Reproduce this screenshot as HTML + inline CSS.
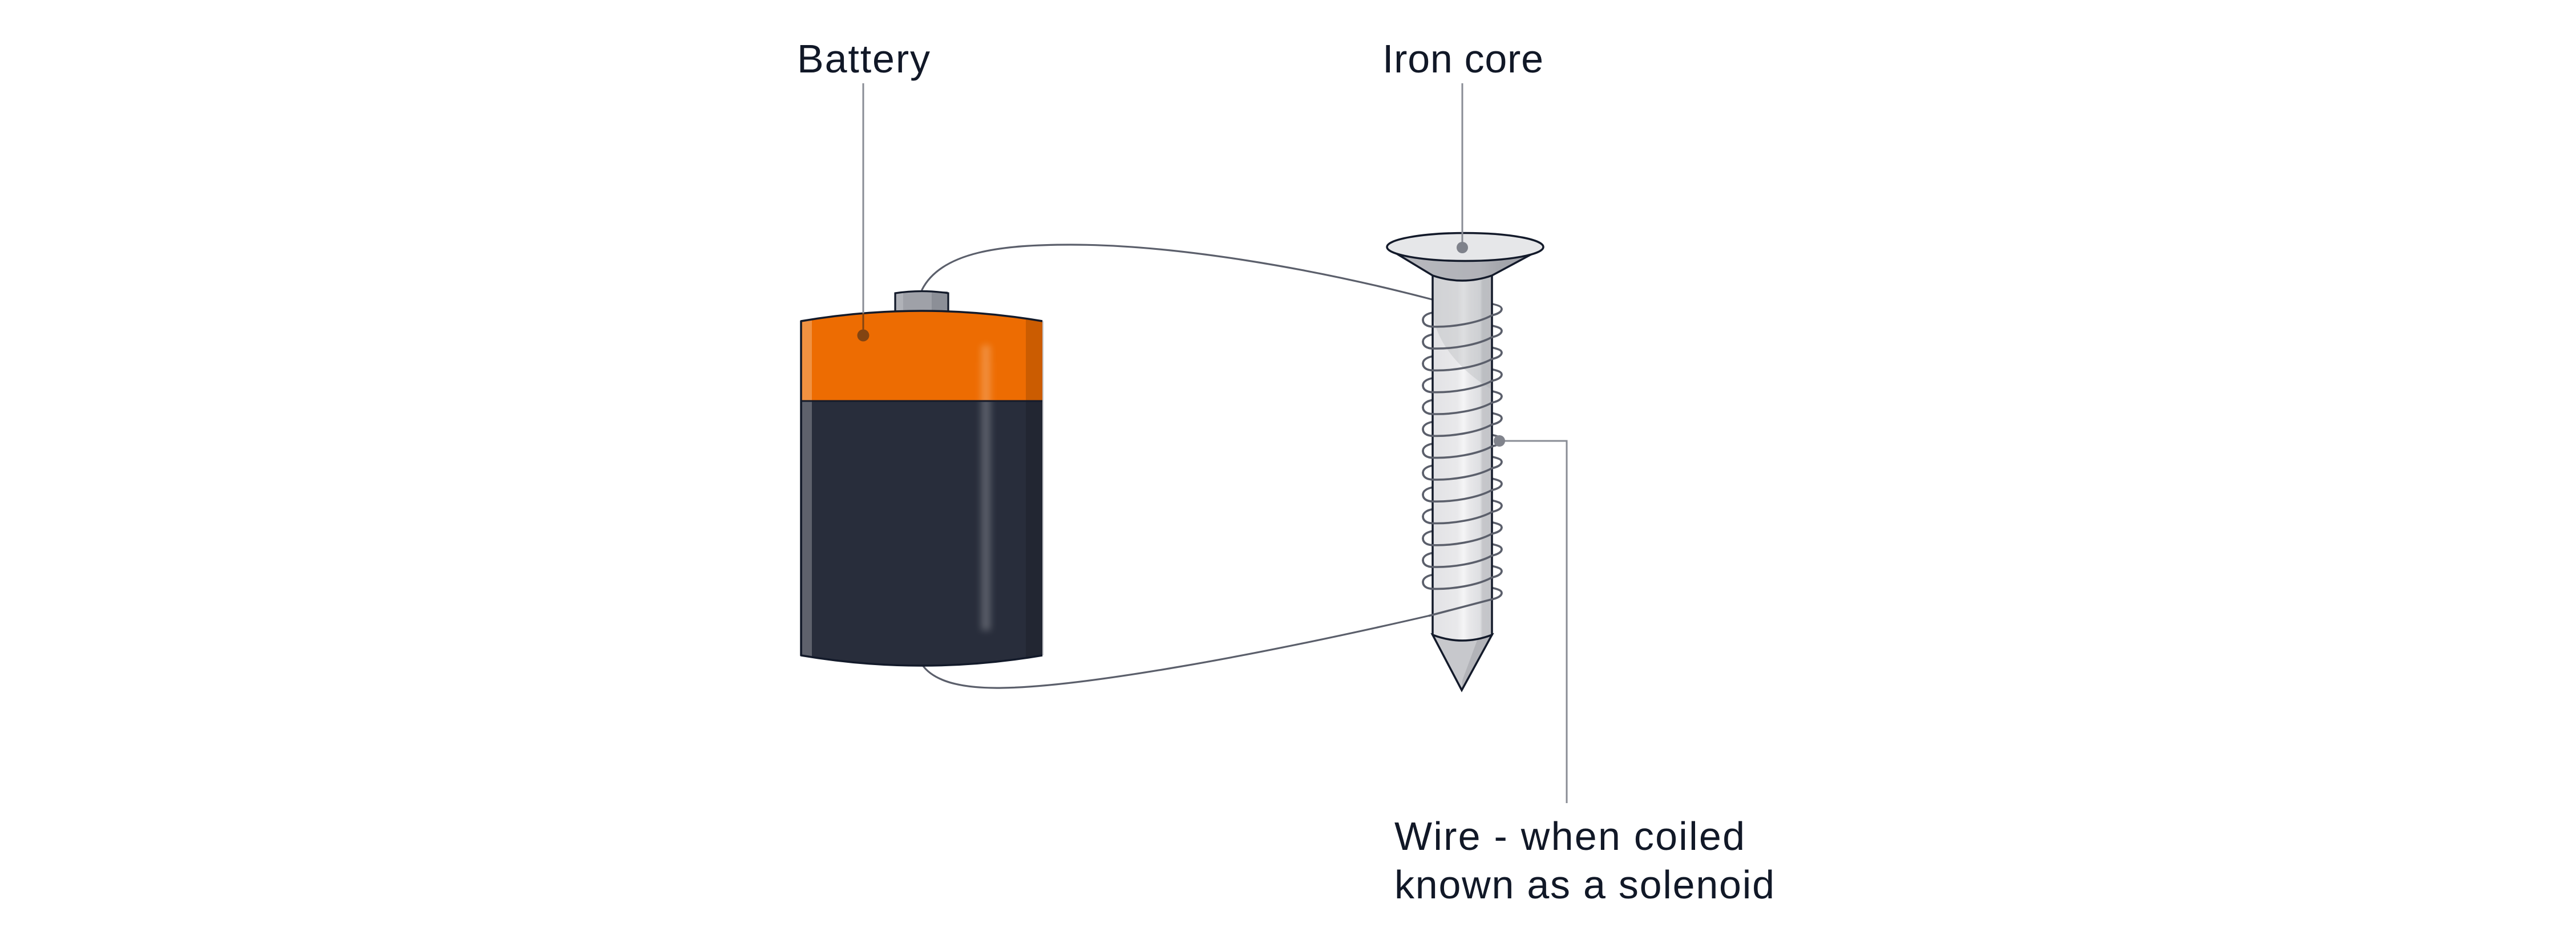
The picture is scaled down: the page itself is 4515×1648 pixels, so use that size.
<!DOCTYPE html>
<html>
<head>
<meta charset="utf-8">
<style>
  html,body{margin:0;padding:0;background:#ffffff;}
  body{width:4515px;height:1648px;overflow:hidden;}
  svg{display:block;}
  text{font-family:"Liberation Sans", Arial, sans-serif;font-size:70px;fill:#111827;}
</style>
</head>
<body>
<svg width="4515" height="1648" viewBox="0 0 4515 1648" xmlns="http://www.w3.org/2000/svg">
  <defs>
    <clipPath id="bat">
      <path d="M1404,563 Q1615,527 1827,563 L1827,1149 Q1615,1185 1404,1149 Z"/>
    </clipPath>
    <linearGradient id="shaft" x1="0" y1="0" x2="1" y2="0">
      <stop offset="0" stop-color="#e2e2e5"/>
      <stop offset="0.42" stop-color="#e9e9eb"/>
      <stop offset="0.52" stop-color="#f5f5f6"/>
      <stop offset="0.62" stop-color="#e8e8ea"/>
      <stop offset="0.80" stop-color="#dedfe2"/>
      <stop offset="0.84" stop-color="#c6c7cb"/>
      <stop offset="1" stop-color="#c3c4c8"/>
    </linearGradient>
    <linearGradient id="cone" x1="0" y1="0" x2="1" y2="0">
      <stop offset="0" stop-color="#b8b9be"/>
      <stop offset="0.6" stop-color="#b1b2b8"/>
      <stop offset="0.75" stop-color="#a4a6ac"/>
      <stop offset="1" stop-color="#9c9ea5"/>
    </linearGradient>
    <filter id="blur" x="-100%" y="-20%" width="300%" height="140%">
      <feGaussianBlur stdDeviation="6"/>
    </filter>
  </defs>

  <!-- Wire (full path incl. back arcs) -->
  <path fill="none" stroke="#5b5f6b" stroke-width="3.2" stroke-linecap="round" stroke-linejoin="round"
    d="M1616,508 C1650,440 1760,429 1877,429 C2060,429 2300,470 2510,525 L2615,532.7 c12,2.8 17,4.8 17,9"/>
  <path fill="none" stroke="#5b5f6b" stroke-width="3.6" stroke-linecap="round" stroke-linejoin="round"
    d="M2632,541.7
       c0,5 -7,9 -17,11 c-25,14 -70,21 -103,20 c-12,0 -18,-5 -18,-12 c0,-7 8,-11 17,-12.7 c34,-4.3 79,8.7 104,22.9 c12,2.8 17,4.8 17,9.1
       c0,5 -7,9 -17,11 c-25,14 -70,21 -103,20 c-12,0 -18,-5 -18,-12 c0,-7 8,-11 17,-12.7 c34,-4.3 79,8.7 104,22.9 c12,2.8 17,4.8 17,9.1
       c0,5 -7,9 -17,11 c-25,14 -70,21 -103,20 c-12,0 -18,-5 -18,-12 c0,-7 8,-11 17,-12.7 c34,-4.3 79,8.7 104,22.9 c12,2.8 17,4.8 17,9.1
       c0,5 -7,9 -17,11 c-25,14 -70,21 -103,20 c-12,0 -18,-5 -18,-12 c0,-7 8,-11 17,-12.7 c34,-4.3 79,8.7 104,22.9 c12,2.8 17,4.8 17,9.1
       c0,5 -7,9 -17,11 c-25,14 -70,21 -103,20 c-12,0 -18,-5 -18,-12 c0,-7 8,-11 17,-12.7 c34,-4.3 79,8.7 104,22.9 c12,2.8 17,4.8 17,9.1
       c0,5 -7,9 -17,11 c-25,14 -70,21 -103,20 c-12,0 -18,-5 -18,-12 c0,-7 8,-11 17,-12.7 c34,-4.3 79,8.7 104,22.9 c12,2.8 17,4.8 17,9.1
       c0,5 -7,9 -17,11 c-25,14 -70,21 -103,20 c-12,0 -18,-5 -18,-12 c0,-7 8,-11 17,-12.7 c34,-4.3 79,8.7 104,22.9 c12,2.8 17,4.8 17,9.1
       c0,5 -7,9 -17,11 c-25,14 -70,21 -103,20 c-12,0 -18,-5 -18,-12 c0,-7 8,-11 17,-12.7 c34,-4.3 79,8.7 104,22.9 c12,2.8 17,4.8 17,9.1
       c0,5 -7,9 -17,11 c-25,14 -70,21 -103,20 c-12,0 -18,-5 -18,-12 c0,-7 8,-11 17,-12.7 c34,-4.3 79,8.7 104,22.9 c12,2.8 17,4.8 17,9.1
       c0,5 -7,9 -17,11 c-25,14 -70,21 -103,20 c-12,0 -18,-5 -18,-12 c0,-7 8,-11 17,-12.7 c34,-4.3 79,8.7 104,22.9 c12,2.8 17,4.8 17,9.1
       c0,5 -7,9 -17,11 c-25,14 -70,21 -103,20 c-12,0 -18,-5 -18,-12 c0,-7 8,-11 17,-12.7 c34,-4.3 79,8.7 104,22.9 c12,2.8 17,4.8 17,9.1
       c0,5 -7,9 -17,11 c-25,14 -70,21 -103,20 c-12,0 -18,-5 -18,-12 c0,-7 8,-11 17,-12.7 c34,-4.3 79,8.7 104,22.9 c12,2.8 17,4.8 17,9.1
       c0,5 -7,9 -17,11 c-25,14 -70,21 -103,20 c-12,0 -18,-5 -18,-12 c0,-7 8,-11 17,-12.7 c34,-4.3 79,8.7 104,22.9 c12,2.8 17,4.8 17,9.1
       c0,5 -7,9 -17,11 L2511,1078"/>
  <path fill="none" stroke="#5b5f6b" stroke-width="3.2" stroke-linecap="round" stroke-linejoin="round"
    d="M2511,1078 C2200,1150 1900,1204 1757,1206 C1700,1207 1640,1200 1616,1165"/>

  <!-- Battery terminal -->
  <path d="M1569,552 L1569,514 Q1615,507 1662,514 L1662,552 Z" fill="#9fa1a8"/>
  <rect x="1571" y="512" width="12" height="40" fill="#b0b2b8"/>
  <rect x="1633" y="511" width="28" height="41" fill="#8c8f97"/>
  <path d="M1569,552 L1569,514 Q1615,507 1662,514 L1662,552" fill="none" stroke="#131a2a" stroke-width="3.2"/>

  <!-- Battery body -->
  <g clip-path="url(#bat)">
    <rect x="1400" y="520" width="432" height="183" fill="#ed6c02"/>
    <rect x="1400" y="703" width="432" height="490" fill="#282d3b"/>
    <rect x="1406" y="520" width="17" height="680" fill="#ffffff" opacity="0.25"/>
    <rect x="1798" y="520" width="32" height="680" fill="#000000" opacity="0.14"/>
    <rect x="1720" y="605" width="16" height="500" fill="#ffffff" opacity="0.24" filter="url(#blur)"/>
  </g>
  <line x1="1404" y1="703" x2="1827" y2="703" stroke="#141a2a" stroke-width="3"/>
  <path d="M1827,563 Q1615,527 1404,563 L1404,1149 Q1615,1185 1827,1149" fill="none" stroke="#131a2a" stroke-width="3.5" stroke-linejoin="round"/>
  <line x1="1828" y1="563" x2="1828" y2="1149" stroke="#c3c5ca" stroke-width="2"/>

  <!-- Screw shaft -->
  <path d="M2511,478 L2511,1113 Q2563,1133 2615,1113 L2615,478 Z" fill="url(#shaft)"/>
  <path d="M2511,483 L2615,483 L2615,683 C2575,660 2525,615 2513,560 Z" fill="#a9abb1" opacity="0.3"/>
  <line x1="2511" y1="478" x2="2511" y2="1114" stroke="#131a2a" stroke-width="3.5"/>
  <line x1="2615" y1="478" x2="2615" y2="1114" stroke="#131a2a" stroke-width="3.5"/>

  <!-- Screw point -->
  <path d="M2511,1113 Q2563,1133 2615,1113 L2562,1210 Z" fill="#c7c8cc"/>
  <path d="M2590,1120 L2615,1113 L2562,1210 L2563,1193 Z" fill="#b2b3b8"/>
  <path d="M2511,1113 Q2563,1133 2615,1113 L2562,1210 Z" fill="none" stroke="#131a2a" stroke-width="3.5" stroke-linejoin="miter"/>

  <!-- Screw head cone + top -->
  <path d="M2440,440 L2511,483 Q2563,501 2615,483 L2695,440 Z" fill="url(#cone)" stroke="#131a2a" stroke-width="3.5" stroke-linejoin="round"/>
  <ellipse cx="2568" cy="433" rx="137" ry="24.5" fill="#e6e7e9" stroke="#131a2a" stroke-width="3.5"/>

  <!-- Front coil arcs (over the shaft) -->
  <path fill="none" stroke="#5b5f6b" stroke-width="3.6" stroke-linecap="round" stroke-linejoin="round"
    d="M2632,541.7
       c0,5 -7,9 -17,11 c-25,14 -70,21 -103,20 c-12,0 -18,-5 -18,-12 m138,19.3
       c0,5 -7,9 -17,11 c-25,14 -70,21 -103,20 c-12,0 -18,-5 -18,-12 m138,19.3
       c0,5 -7,9 -17,11 c-25,14 -70,21 -103,20 c-12,0 -18,-5 -18,-12 m138,19.3
       c0,5 -7,9 -17,11 c-25,14 -70,21 -103,20 c-12,0 -18,-5 -18,-12 m138,19.3
       c0,5 -7,9 -17,11 c-25,14 -70,21 -103,20 c-12,0 -18,-5 -18,-12 m138,19.3
       c0,5 -7,9 -17,11 c-25,14 -70,21 -103,20 c-12,0 -18,-5 -18,-12 m138,19.3
       c0,5 -7,9 -17,11 c-25,14 -70,21 -103,20 c-12,0 -18,-5 -18,-12 m138,19.3
       c0,5 -7,9 -17,11 c-25,14 -70,21 -103,20 c-12,0 -18,-5 -18,-12 m138,19.3
       c0,5 -7,9 -17,11 c-25,14 -70,21 -103,20 c-12,0 -18,-5 -18,-12 m138,19.3
       c0,5 -7,9 -17,11 c-25,14 -70,21 -103,20 c-12,0 -18,-5 -18,-12 m138,19.3
       c0,5 -7,9 -17,11 c-25,14 -70,21 -103,20 c-12,0 -18,-5 -18,-12 m138,19.3
       c0,5 -7,9 -17,11 c-25,14 -70,21 -103,20 c-12,0 -18,-5 -18,-12 m138,19.3
       c0,5 -7,9 -17,11 c-25,14 -70,21 -103,20 c-12,0 -18,-5 -18,-12 m138,19.3
       c0,5 -7,9 -17,11 L2505,1079.5"/>

  <!-- Leader: Battery -->
  <line x1="1513" y1="146" x2="1513" y2="549" stroke="#898c95" stroke-width="3"/>
  <line x1="1513" y1="549" x2="1513" y2="588" stroke="#824412" stroke-width="3"/>
  <circle cx="1513" cy="588" r="10.5" fill="#824412"/>

  <!-- Leader: Iron core -->
  <line x1="2563" y1="146" x2="2563" y2="434" stroke="#898c95" stroke-width="3"/>
  <circle cx="2563" cy="434" r="10" fill="#7f828b"/>

  <!-- Leader: Wire -->
  <path d="M2628,773 H2746 V1408" fill="none" stroke="#898c95" stroke-width="3"/>
  <circle cx="2628" cy="773" r="10" fill="#80838c"/>

  <!-- Labels -->
  <text x="1397" y="127" textLength="233" lengthAdjust="spacing">Battery</text>
  <text x="2423" y="127" textLength="282" lengthAdjust="spacing">Iron core</text>
  <text x="2444" y="1490" textLength="614" lengthAdjust="spacing">Wire - when coiled</text>
  <text x="2444" y="1575" textLength="666" lengthAdjust="spacing">known as a solenoid</text>
</svg>
</body>
</html>
